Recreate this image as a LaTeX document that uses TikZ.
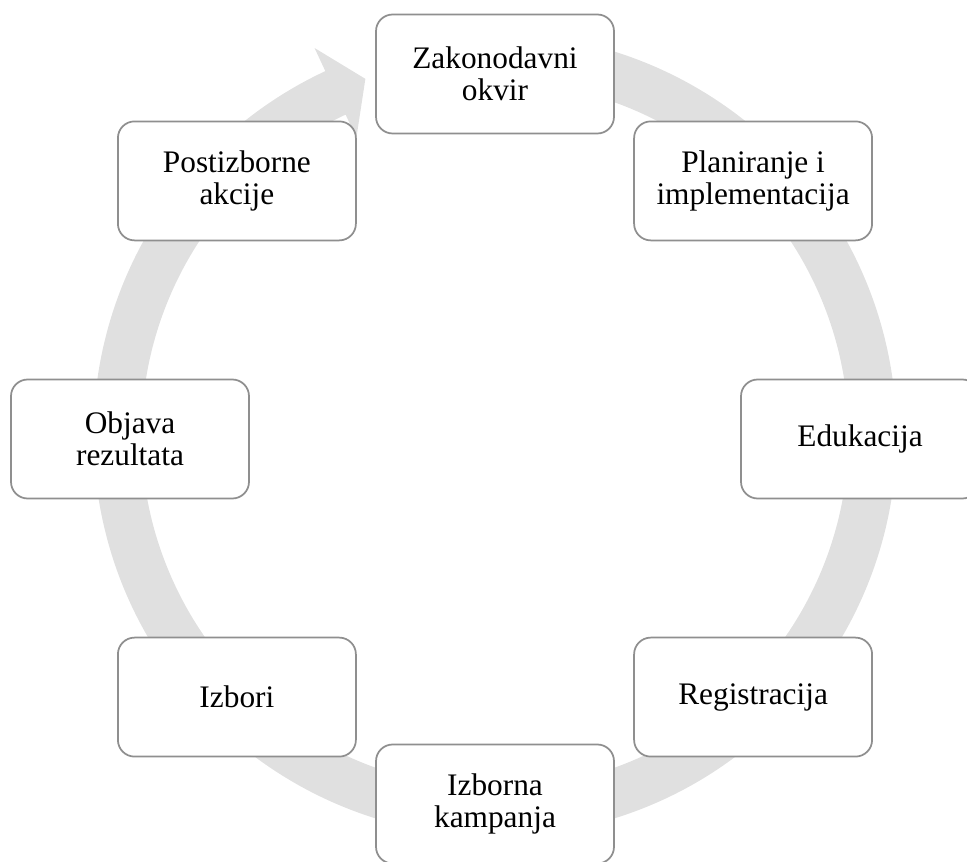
\documentclass[tikz,border=0pt]{standalone}
\usepackage{fontspec}
\setmainfont{Liberation Serif}
\definecolor{bandgray}{HTML}{E0E0E0}
\definecolor{boxgray}{HTML}{8F8F8F}
\begin{document}
\begin{tikzpicture}[x=0.75pt,y=0.75pt,
  stagebox/.style={draw=boxgray, line width=1.3pt, fill=white, rounded corners=12.5pt,
    minimum width=178.5pt, minimum height=89.25pt, inner sep=0pt, align=center,
    font=\fontsize{23.5}{24}\selectfont}]
\useasboundingbox (0,0) rectangle (967,861);
\clip (0,0) rectangle (967,861);
% circular arrow band
\begin{scope}[shift={(495,426)}]
\fill[bandgray] (100:401.5) arc[start angle=100, end angle=-245, radius=301.125pt]
  -- (115:427) -- (110:379) -- (115:328) -- (115:353.5)
  arc[start angle=-245, end angle=100, radius=265.125pt] -- cycle;
\end{scope}
% stages
\node[stagebox] (zak)  at (495,787)     {Zakonodavni\\okvir};
\node[stagebox] (plan) at (753.1,680.1) {Planiranje i\\implementacija};
\node[stagebox] (edu)  at (860,422)     {Edukacija};
\node[stagebox] (reg)  at (753.1,163.9) {Registracija};
\node[stagebox] (kamp) at (495,57)      {Izborna\\kampanja};
\node[stagebox] (izb)  at (236.9,163.9) {Izbori};
\node[stagebox] (obj)  at (130,422)     {Objava\\rezultata};
\node[stagebox] (post) at (236.9,680.1) {Postizborne\\akcije};
\end{tikzpicture}
\end{document}
